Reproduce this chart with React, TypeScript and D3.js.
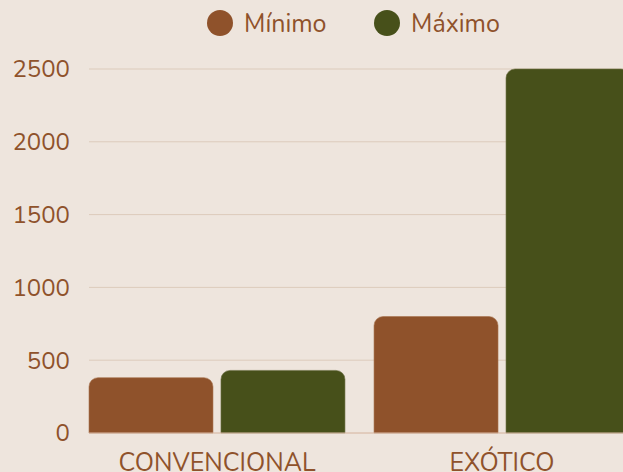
import React from "react";
import * as d3 from "d3";

const categories = ["CONVENCIONAL", "EXÓTICO"];
const seriesNames = ["Mínimo", "Máximo"];
const minValues = [380, 800];
const maxValues = [430, 2500];
const yTicks = [0, 500, 1000, 1500, 2000, 2500];
const colors = ["#8F522B", "#47501A"];

const W = 623;
const H = 472;

function topRoundedRect(x: number, y: number, w: number, h: number, r: number) {
  const rr = Math.min(r, w / 2, h);
  const p = d3.path();
  p.moveTo(x, y + h);
  p.lineTo(x, y + rr);
  p.arcTo(x, y, x + rr, y, rr);
  p.lineTo(x + w - rr, y);
  p.arcTo(x + w, y, x + w, y + rr, rr);
  p.lineTo(x + w, y + h);
  p.closePath();
  return p.toString();
}

export default function App() {
  const series = [minValues, maxValues];
  const x0 = d3.scaleBand<string>().domain(categories).range([89, 630]).paddingInner(0.102).paddingOuter(0);
  const x1 = d3.scaleBand<string>().domain(seriesNames).range([0, x0.bandwidth()]).paddingInner(0.0606);
  const y = d3.scaleLinear().domain([0, 2500]).range([433, 69]);
  const font = "Nunito, Lato, 'Open Sans', sans-serif";
  const textColor = "#8F522B";
  const legendX = [220, 387];

  return (
    <div style={{ position: "fixed", left: 0, top: 0, width: W, height: H, overflow: "hidden", background: "#EEE5DD" }}>
      <svg width={W} height={H} style={{ display: "block" }} fontFamily={font}>
        <rect x={0} y={0} width={W} height={H} fill="#EEE5DD" />
        {yTicks.map((t) => (
          <g key={t}>
            {t !== 0 && (
              <line x1={89} x2={W} y1={y(t)} y2={y(t)} stroke="#DCCBBB" strokeWidth={1} />
            )}
            <text x={70} y={y(t)} dy="0.35em" textAnchor="end" fontSize={24} fill={textColor}>
              {t}
            </text>
          </g>
        ))}
        {categories.map((c, ci) => (
          <g key={c}>
            {seriesNames.map((s, si) => {
              const v = series[si][ci];
              const bx = (x0(c) ?? 0) + (x1(s) ?? 0);
              const by = y(v);
              return (
                <path
                  key={s}
                  d={topRoundedRect(bx, by, x1.bandwidth(), y(0) - by, 9)}
                  fill={colors[si]}
                  stroke={si === 0 ? "#A8734F" : "#6B6E45"}
                  strokeWidth={0.6}
                />
              );
            })}
            <text
              x={(x0(c) ?? 0) + x0.bandwidth() / 2}
              y={471}
              textAnchor="middle"
              fontSize={25}
              fill={textColor}
            >
              {c}
            </text>
          </g>
        ))}
        <line x1={89} x2={W} y1={y(0)} y2={y(0)} stroke="#D4B29C" strokeWidth={1} />
        {seriesNames.map((s, i) => {
          const cx = legendX[i];
          return (
            <g key={s}>
              <ellipse cx={cx} cy={23} rx={13} ry={13} fill={colors[i]} />
              <text x={cx + 24} y={23} dy="0.36em" fontSize={25} fill={textColor}>
                {s}
              </text>
            </g>
          );
        })}
      </svg>
    </div>
  );
}
